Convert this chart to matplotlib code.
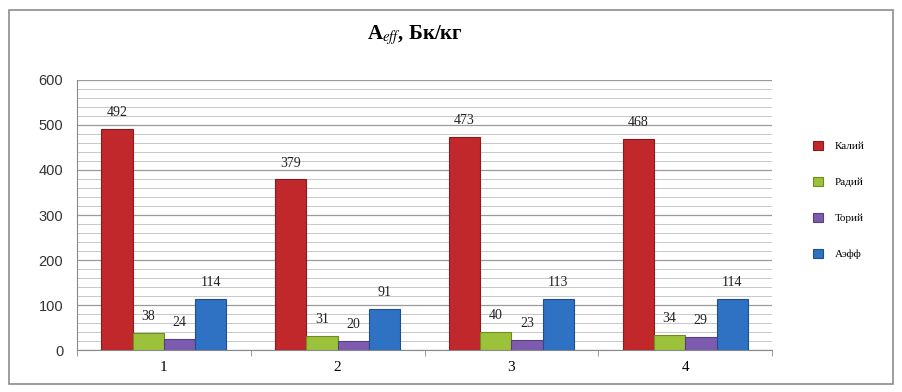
import matplotlib.pyplot as plt
import numpy as np
from matplotlib.patches import Rectangle
from matplotlib.ticker import MultipleLocator

categories = ["1", "2", "3", "4"]
series_names = ["Калий", "Радий", "Торий", "Аэфф"]
kaliy = [492, 379, 473, 468]
radiy = [38, 31, 40, 34]
toriy = [24, 20, 23, 29]
aeff = [114, 91, 113, 114]

COLORS = ["#C0282C", "#9CC13A", "#7D5CB0", "#2F72C4"]
EDGES = ["#8A1A1C", "#6E8C22", "#56407E", "#1F4F8C"]

plt.rcParams["font.family"] = ["Liberation Serif", "DejaVu Serif"]
plt.rcParams["mathtext.fontset"] = "stix"

fig = plt.figure(figsize=(9.02, 3.92), dpi=100)
fig.patches.append(Rectangle((0.01, 0.02), 0.98, 0.955, transform=fig.transFigure,
                             fill=False, edgecolor="#8c8c8c", linewidth=1.2))

ax = fig.add_axes([0.0854, 0.107, 0.7706, 0.689])
x = np.arange(len(categories))
width = 0.18
all_series = [kaliy, radiy, toriy, aeff]
for i, (vals, name) in enumerate(zip(all_series, series_names)):
    pos = x + (i - 1.5) * width
    bars = ax.bar(pos, vals, width, color=COLORS[i], edgecolor=EDGES[i],
                  linewidth=0.8, label=name, zorder=3)
    for b, v in zip(bars, vals):
        ax.text(b.get_x() + b.get_width() / 2, v + 22, str(v), ha="center",
                va="bottom", fontsize=10, color="#222222", zorder=4)

ax.set_xlim(-0.5, len(categories) - 0.5)
ax.set_ylim(0, 600)
ax.yaxis.set_major_locator(MultipleLocator(100))
ax.yaxis.set_minor_locator(MultipleLocator(20))
ax.grid(True, which="major", axis="y", color="#9a9a9a", linewidth=0.9, zorder=0)
ax.grid(True, which="minor", axis="y", color="#c8c8c8", linewidth=0.7, zorder=0)
ax.set_xticks(x)
ax.set_xticklabels(categories, fontsize=11)
ax.set_xticks(np.arange(len(categories) + 1) - 0.5, minor=True)
ax.tick_params(axis="x", which="major", length=0, pad=8)
ax.tick_params(axis="x", which="minor", length=4, color="#888888")
ax.tick_params(axis="y", which="both", length=0, labelsize=10.5, colors="#333333", pad=10)
for lab in ax.get_yticklabels():
    lab.set_fontfamily(["Liberation Sans", "DejaVu Sans"])
for s in ["top", "right"]:
    ax.spines[s].set_visible(False)
ax.spines["left"].set_color("#888888")
ax.spines["bottom"].set_color("#888888")

fig.text(0.46, 0.91, r"A$_{eff}$, Бк/кг", ha="center", va="center",
         fontsize=15, fontweight="bold")

leg = fig.legend(loc="center left", bbox_to_anchor=(0.89, 0.49), frameon=False,
                 fontsize=8, handlelength=0.9, handleheight=0.9, labelspacing=2.3,
                 handletextpad=1.1)

fig.savefig("out.png", dpi=100)
